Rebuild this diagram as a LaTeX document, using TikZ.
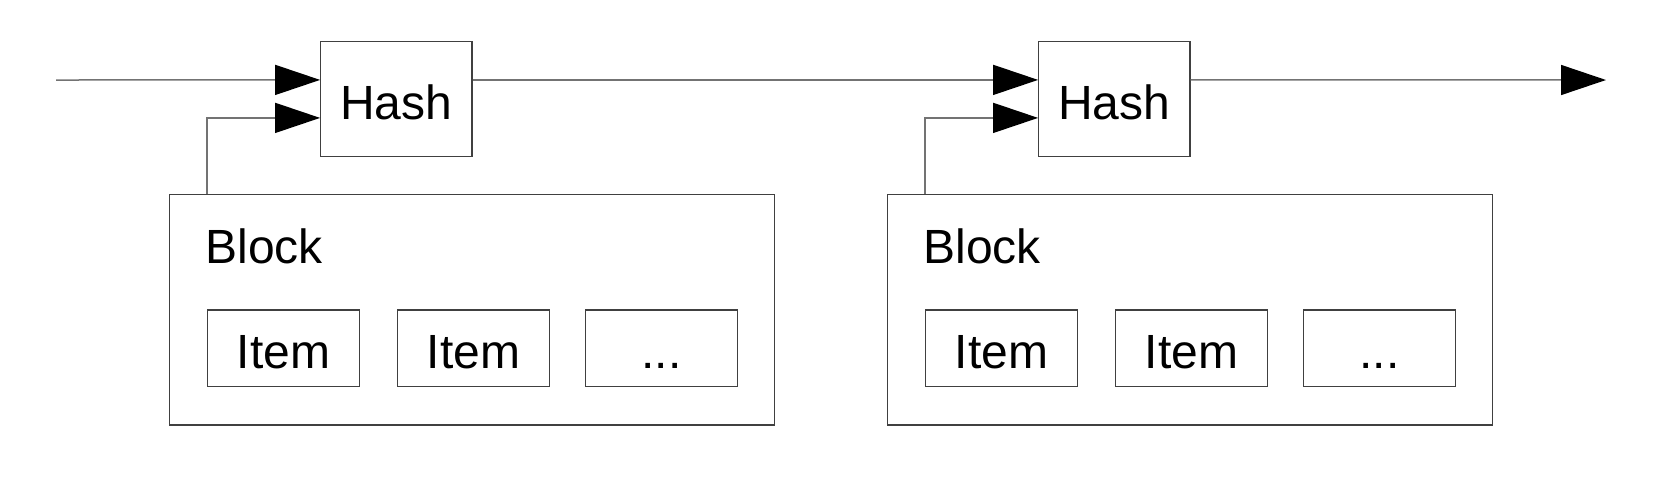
\documentclass[tikz,border=0pt]{standalone}
\usepackage{fontspec}
\setmainfont{Liberation Sans}
\usetikzlibrary{arrows.meta,calc}
\begin{document}
\begin{tikzpicture}[x=0.5pt,y=-0.5pt,
  lbl/.style={font=\fontsize{24}{28}\selectfont},
  box/.style={draw=black!75, line width=0.55pt, rectangle, inner sep=0pt, lbl, text height=20.3pt, text depth=0pt},
  hashbox/.style={box, minimum width=75.65pt, minimum height=57.15pt},
  itembox/.style={box, minimum width=76pt, minimum height=38.35pt},
  blockbox/.style={draw=black!75, line width=0.55pt, rectangle, inner sep=0pt, minimum width=302.5pt, minimum height=115.35pt},
  conn/.style={draw=black!55, line width=0.75pt},
  link/.style={conn, -{Triangle[length=22.5pt,width=15pt,color=black]}}]
\useasboundingbox (0,0) rectangle (1656,500);

% blocks
\node[blockbox] (b1) at (472,309.65) {};
\node[blockbox] (b2) at (1190,309.65) {};
\node[lbl, anchor=base west, inner sep=0pt] (bl1) at (205,263) {Block};
\node[lbl, anchor=base west, inner sep=0pt] (bl2) at (923,263) {Block};

% items
\node[itembox] (i11) at (283.5,348.3) {Item};
\node[itembox] (i12) at (473.5,348.3) {Item};
\node[itembox] (i13) at (661.5,348.3) {...};
\node[itembox] (i21) at (1001.5,348.3) {Item};
\node[itembox] (i22) at (1191.5,348.3) {Item};
\node[itembox] (i23) at (1379.5,348.3) {...};

% hashes
\node[hashbox] (h1) at (396.3,98.9) {Hash};
\node[hashbox] (h2) at (1114.3,98.9) {Hash};

% chain
\coordinate (inc) at (56,80);
\coordinate (outc) at (1606,80);
\draw[link] (inc) -- ($(h1.west)+(0,-19)$);
\draw[link] ($(h1.east)+(0,-19)$) -- ($(h2.west)+(0,-19)$);
\draw[link] ($(h2.east)+(0,-19)$) -- (outc);

% block to hash
\draw[link] ($(b1.north west)+(38,0)$) |- ($(h1.west)+(0,19)$);
\draw[link] ($(b2.north west)+(38,0)$) |- ($(h2.west)+(0,19)$);
\end{tikzpicture}
\end{document}
